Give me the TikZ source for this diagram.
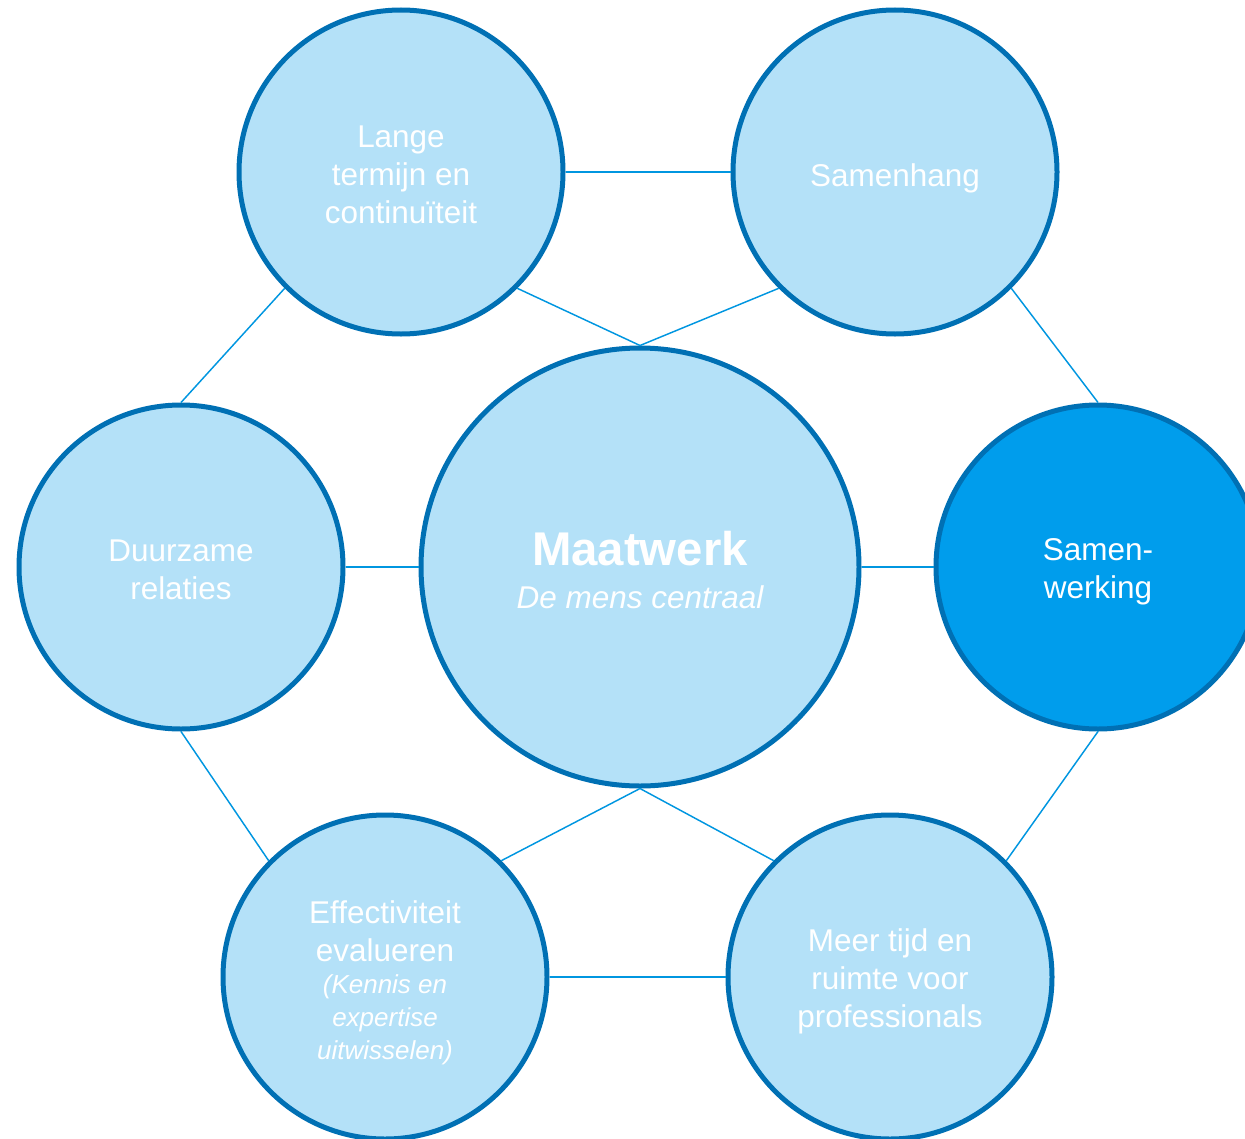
\documentclass[tikz,border=0pt]{standalone}
\usepackage{fontspec}
\setmainfont{Liberation Sans}
\usetikzlibrary{calc}

\definecolor{ringblue}{RGB}{0,112,180}
\definecolor{paleblue}{RGB}{180,225,248}
\definecolor{deepblue}{RGB}{0,157,236}
\definecolor{linkblue}{RGB}{0,150,224}

% extra height on a first line, to drop the text a little
\newcommand{\lift}[1][23.5pt]{\rule{0pt}{#1}}

\tikzset{
    bubble/.style={circle, draw=ringblue, line width=3.75pt, fill=paleblue,
        text=white, align=center, inner sep=0pt, minimum size=243pt,
        font=\fontsize{23.6}{28.5}\selectfont},
    bigbubble/.style={bubble, minimum size=328.5pt},
    link/.style={draw=linkblue, line width=1.1pt},
}

\begin{document}
\begin{tikzpicture}[x=0.75pt, y=-0.75pt]
        \clip (0,0) rectangle (1245,1138);

        % hub
        \node[bigbubble] (maat) at (640,567) {{\fontsize{35.5}{36}\selectfont\bfseries
        \lift[30pt]Maatwerk}\\[3.5pt] {\itshape De mens centraal}};

        % ring
        \node[bubble] (lange) at (401,172) {\lift[20.5pt]Lange\\termijn en\\continu\"iteit};
        \node[bubble] (hang) at (895,172) {\lift[26.5pt]Samenhang};
        \node[bubble] (duur) at (181,567) {\lift[20.5pt]Duurzame\\relaties};
        \node[bubble, fill=deepblue] (werk) at (1098,567) {\lift Samen-\\werking};
        \node[bubble] (effect) at (385,977) {\lift[25.5pt]Effectiviteit\\evalueren\\[-4pt]
        {\fontsize{19.5}{24}\selectfont\itshape (Kennis en}\\[-4pt]
        {\fontsize{19.5}{24}\selectfont\itshape expertise}\\[-4pt]
        {\fontsize{19.5}{24}\selectfont\itshape uitwisselen)}};
        \node[bubble] (tijd) at (890,977) {\lift Meer tijd en\\ruimte voor\\professionals};

        % links
        \draw[link] (lange.east) -- (hang.west);
        \draw[link] (lange.-45) -- (maat.north);
        \draw[link] (hang.225) -- (maat.north);
        \draw[link] (lange.225) -- (duur.north);
        \draw[link] (hang.-45) -- (werk.north);
        \draw[link] (duur.east) -- (maat.west);
        \draw[link] (maat.east) -- (werk.west);
        \draw[link] (duur.south) -- (effect.135);
        \draw[link] (werk.south) -- (tijd.45);
        \draw[link] (maat.south) -- (effect.45);
        \draw[link] (maat.south) -- (tijd.135);
        \draw[link] (effect.east) -- (tijd.west);
\end{tikzpicture}
\end{document}
